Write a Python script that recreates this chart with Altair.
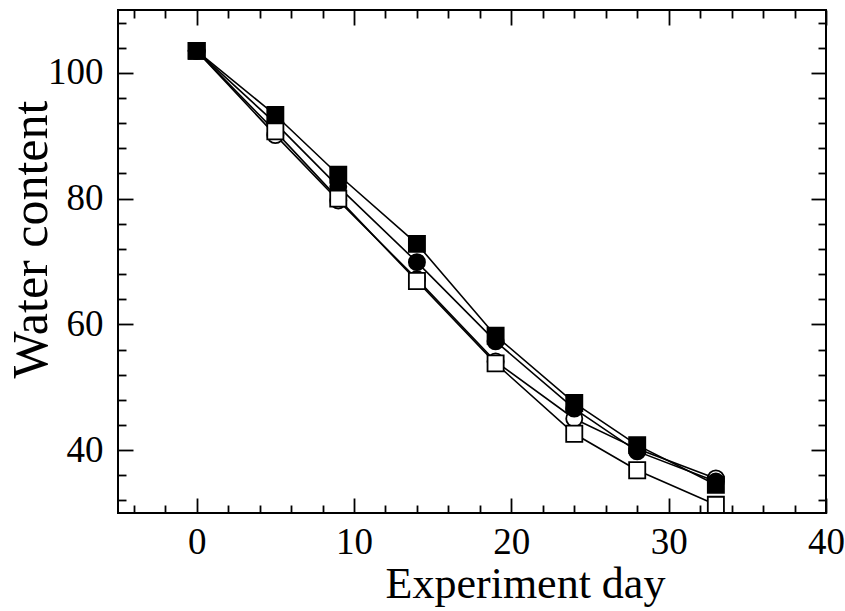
import altair as alt
import pandas as pd

# ---- data ----
days = [0, 5, 9, 14, 19, 24, 28, 33]
open_circle = [103.5, 90.1, 79.7, 67.2, 54.1, 45.0, 40.2, 35.5]
filled_circle = [103.5, 92.0, 81.9, 69.9, 57.3, 46.6, 39.8, 35.0]
open_square = [103.5, 90.7, 80.0, 66.9, 53.8, 42.6, 36.8, 31.3]
filled_square = [103.5, 93.3, 83.8, 72.8, 58.2, 47.5, 40.8, 34.5]

series_names = ["open circle", "filled circle", "open square", "filled square"]
series_values = [open_circle, filled_circle, open_square, filled_square]
series_shape = ["circle", "circle", "square", "square"]
series_fill = ["white", "black", "white", "black"]

x_major = [0, 10, 20, 30, 40]
x_minor = [-4, -2, 2, 4, 6, 8, 12, 14, 16, 18, 22, 24, 26, 28, 32, 34, 36, 38]
y_major = [40, 60, 80, 100]
y_minor = [32, 36, 44, 48, 52, 56, 64, 68, 72, 76, 84, 88, 92, 96, 104, 108]

x_domain = [-5, 40]
y_domain = [30, 110]

rows = []
for name, vals in zip(series_names, series_values):
    for d, v in zip(days, vals):
        rows.append({"day": d, "value": v, "series": name})
df = pd.DataFrame(rows)

FONT = "Liberation Serif"
xs = alt.Scale(domain=x_domain, nice=False, zero=False)
ys = alt.Scale(domain=y_domain, nice=False, zero=False)

common = dict(domain=False, grid=False, tickColor="black", tickWidth=1.8)
MAJ = 15
MIN = 8

base = alt.Chart(df)


def axis_layer(xaxis, yaxis):
    return base.mark_point(opacity=0, size=1).encode(
        x=alt.X("day:Q", scale=xs, axis=xaxis),
        y=alt.Y("value:Q", scale=ys, axis=yaxis),
    )


ax_main = axis_layer(
    alt.Axis(orient="bottom", values=x_major, tickSize=MAJ, offset=-MAJ,
             labelFont=FONT, labelFontSize=37, labelColor="black", labelPadding=11,
             labelFlush=False, labelOverlap=False, format="d",
             title="Experiment day", titleFont=FONT, titleFontSize=44,
             titleFontWeight="normal", titleColor="black",
             titleX=407, titleY=99, titleBaseline="alphabetic", **common),
    alt.Axis(orient="left", values=y_major, tickSize=MAJ, offset=-MAJ,
             labelFont=FONT, labelFontSize=37, labelColor="black", labelPadding=15,
             labelOverlap=False, format="d",
             title="Water content", titleFont=FONT, titleFontSize=50,
             titleFontWeight="normal", titleColor="black", titleAngle=270,
             titleX=-87, titleY=229, titleBaseline="alphabetic", **common),
)
ax_minor = axis_layer(
    alt.Axis(orient="bottom", values=x_minor, tickSize=MIN, offset=-MIN,
             labels=False, title=None, **common),
    alt.Axis(orient="left", values=y_minor, tickSize=MIN, offset=-MIN,
             labels=False, title=None, **common),
)
ax_top_major = axis_layer(
    alt.Axis(orient="top", values=x_major, tickSize=MAJ, offset=-MAJ,
             labels=False, title=None, **common),
    alt.Axis(orient="right", values=y_major, tickSize=MAJ, offset=-MAJ,
             labels=False, title=None, **common),
)
ax_top_minor = axis_layer(
    alt.Axis(orient="top", values=x_minor, tickSize=MIN, offset=-MIN,
             labels=False, title=None, **common),
    alt.Axis(orient="right", values=y_minor, tickSize=MIN, offset=-MIN,
             labels=False, title=None, **common),
)

lines = base.mark_line(color="black", strokeWidth=1.6).encode(
    x=alt.X("day:Q", scale=xs, axis=None),
    y=alt.Y("value:Q", scale=ys, axis=None),
    detail="series:N",
)

point_layers = []
for name, shp, fill in zip(series_names, series_shape, series_fill):
    point_layers.append(
        base.transform_filter(alt.datum.series == name)
        .mark_point(shape=shp, filled=True, fill=fill, stroke="black",
                    strokeWidth=1.8, size=260, opacity=1)
        .encode(
            x=alt.X("day:Q", scale=xs, axis=None),
            y=alt.Y("value:Q", scale=ys, axis=None),
        )
    )

chart = (
    alt.layer(ax_main, ax_minor, ax_top_major, ax_top_minor, lines, *point_layers)
    .resolve_axis(x="independent", y="independent")
    .properties(
        width=708,
        height=503,
        autosize=alt.AutoSizeParams(type="none"),
        padding={"left": 118, "top": 10, "right": 19, "bottom": 98},
        background="white",
    )
    .configure_view(stroke="black", strokeWidth=2)
)

chart.save("out.html", embed_options={"renderer": "svg", "actions": False})
